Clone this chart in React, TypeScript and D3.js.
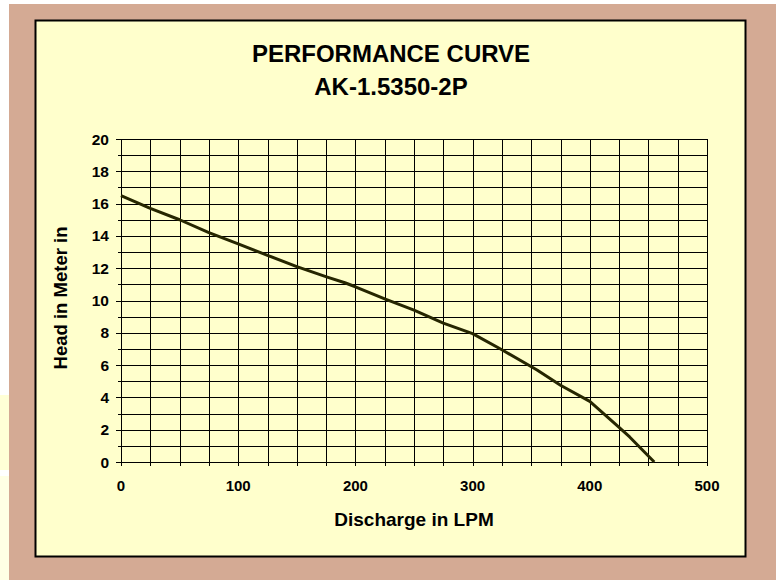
import { useEffect, useRef } from 'react';
import * as d3 from 'd3';

// pump curve
const flowLpm = [0, 25, 50, 75, 100, 125, 150, 176, 191, 200, 225, 250, 275, 300, 325, 355, 375, 400, 425, 434, 455];
const headM   = [16.5, 15.7, 15.0, 14.2, 13.5, 12.8, 12.1, 11.45, 11.1, 10.85, 10.1, 9.4, 8.6, 7.95, 6.95, 5.7, 4.75, 3.75, 2.15, 1.55, 0];

const xTicks = [0, 100, 200, 300, 400, 500];
const yTicks = [0, 2, 4, 6, 8, 10, 12, 14, 16, 18, 20];
const titleLines = ['PERFORMANCE CURVE', 'AK-1.5350-2P'];

const W = 776;
const H = 580;
const FONT = '"Liberation Sans", Arial, sans-serif';

export default function App() {
  const ref = useRef<SVGSVGElement>(null);

  useEffect(() => {
    if (!ref.current) return;
    const svg = d3.select(ref.current);
    svg.selectAll('*').remove();

    // background frame
    svg.append('rect').attr('width', W).attr('height', H).attr('fill', '#ffffff');
    svg.append('rect').attr('x', 0).attr('y', 395).attr('width', 9).attr('height', 75).attr('fill', '#ffffd6');
    svg.append('rect').attr('x', 0).attr('y', 476).attr('width', 9).attr('height', 104).attr('fill', '#ffffe4');
    svg.append('rect').attr('x', 9).attr('y', 4).attr('width', W - 9).attr('height', H - 4).attr('fill', '#d4aa94');
    svg.append('rect')
      .attr('x', 35.5).attr('y', 20.5).attr('width', 710).attr('height', 536)
      .attr('fill', '#ffffcc').attr('stroke', '#000').attr('stroke-width', 2);

    const x = d3.scaleLinear().domain([0, 500]).range([121, 707]);
    const y = d3.scaleLinear().domain([0, 20]).range([462, 139]);

    const grid = svg.append('g').attr('shape-rendering', 'crispEdges').attr('stroke', '#000').attr('stroke-width', 1);

    // vertical grid every 25 LPM
    grid.selectAll('line.v')
      .data(d3.range(0, 501, 25))
      .enter().append('line')
      .attr('class', 'v')
      .attr('x1', (d: number) => Math.round(x(d)) + 0.5).attr('x2', (d: number) => Math.round(x(d)) + 0.5)
      .attr('y1', y(20)).attr('y2', y(0) + 4);

    // horizontal grid every 1 m
    grid.selectAll('line.h')
      .data(d3.range(0, 21, 1))
      .enter().append('line')
      .attr('class', 'h')
      .attr('x1', (d: number) => x(0) - (d % 2 === 0 ? 5 : 3)).attr('x2', x(500))
      .attr('y1', (d: number) => Math.round(y(d)) + 0.5).attr('y2', (d: number) => Math.round(y(d)) + 0.5);

    // curve
    const pts = flowLpm.map((f, i) => [f, headM[i]] as [number, number]);
    const line = d3.line<[number, number]>()
      .x((d) => x(d[0]))
      .y((d) => y(d[1]));

    svg.append('path')
      .datum(pts)
      .attr('fill', 'none')
      .attr('stroke', '#262600')
      .attr('stroke-width', 3)
      .attr('stroke-linejoin', 'round')
      .attr('d', line);

    // tick labels
    svg.append('g')
      .selectAll('text')
      .data(xTicks)
      .enter().append('text')
      .attr('x', (d: number) => x(d)).attr('y', 491)
      .attr('text-anchor', 'middle')
      .attr('font-family', FONT).attr('font-weight', 'bold').attr('font-size', 15)
      .text((d: number) => d);

    svg.append('g')
      .selectAll('text')
      .data(yTicks)
      .enter().append('text')
      .attr('x', 109).attr('y', (d: number) => y(d) + 5.5)
      .attr('text-anchor', 'end')
      .attr('font-family', FONT).attr('font-weight', 'bold').attr('font-size', 15.5)
      .text((d: number) => d);

    // axis titles
    svg.append('text')
      .attr('x', 414).attr('y', 526)
      .attr('text-anchor', 'middle')
      .attr('font-family', FONT).attr('font-weight', 'bold').attr('font-size', 19)
      .text('Discharge in LPM');

    svg.append('text')
      .attr('transform', `translate(67,${298}) rotate(-90)`)
      .attr('text-anchor', 'middle')
      .attr('font-family', FONT).attr('font-weight', 'bold').attr('font-size', 18.5)
      .text('Head in Meter in');

    // title
    svg.append('g')
      .selectAll('text')
      .data(titleLines)
      .enter().append('text')
      .attr('x', 391).attr('y', (_: string, i: number) => 62 + i * 33)
      .attr('text-anchor', 'middle')
      .attr('font-family', FONT).attr('font-weight', 'bold').attr('font-size', 24)
      .text((d: string) => d);
  }, []);

  return (
    <svg ref={ref} width={W} height={H} style={{ position: 'absolute', left: 0, top: 0, display: 'block' }} />
  );
}
